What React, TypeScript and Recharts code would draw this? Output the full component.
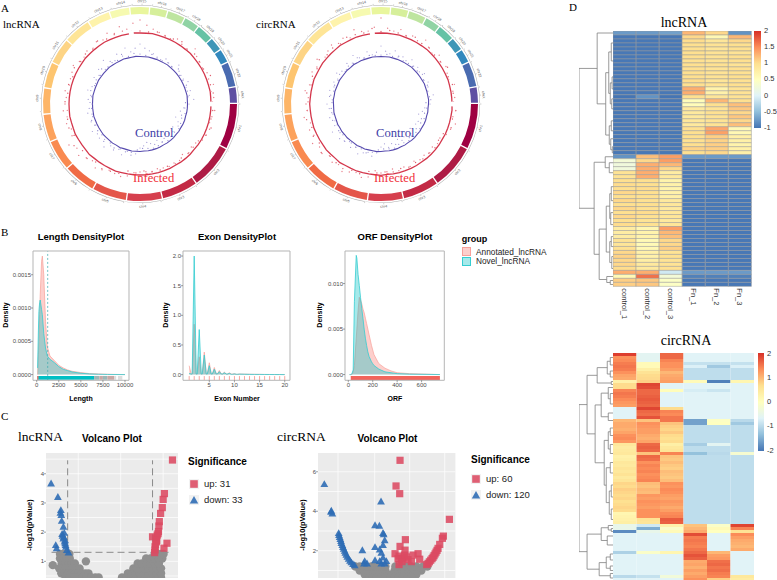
import React from 'react';
import {
  AreaChart, Area, XAxis, YAxis, ReferenceArea, ReferenceLine, ScatterChart, Scatter, CartesianGrid,
  BarChart, Bar, Cell, LineChart, Line, PieChart, Pie, RadarChart, Radar, PolarAngleAxis, PolarRadiusAxis,
} from 'recharts';

const SANS = '"Liberation Sans", Arial, sans-serif';
const SERIF = '"Liberation Serif", serif';
const RED = '#F8766D';
const TEAL = '#00BFC4';

/* ---------- circos ---------- */
const chromNames = ['chr1','chr2','chr3','chr4','chr5','chr6','chr7','chr8','chr9','chr10','chr11','chr12','chr13','chr14','chr15','chr16','chr17','chr18','chr19','chr20','chr21','chr22','chrX'];
const chromSizes = [28,27.5,22,21.5,21,19.5,18.5,16.5,15.5,15.5,15.5,16.5,13.5,12,11.5,10.5,10.5,9,10,8,8,15,9.5];
const chromColors = ['#9E0142','#AE1B45','#C32A45','#D6404E','#E4564A','#F06B45','#F98A50','#FCA25C','#FDB567','#FDC570','#FDD485','#FEE597','#FEF3AB','#F6FAB0','#E9F69D','#D6EF9B','#BEE5A0','#90D3A4','#66C2A5','#3F96B7','#3288BD','#4A6BB0','#5E4FA2'];
const ringGapSpans = [4, 259, 4, 93];

const lncRedLine = [71,71,71.4,71,71,71,71,71,71,71.3,71,71, 71,71,71,71,71.3,71,71,71,71,71,71,71, 71,71,70.7,71,71,71,70.7,71,71,71,71,71, 71,71,71,71,71.5,71,71,71,71,71.6,71,71, 71,71.4,71,71,71.3,71,71,71,71,71,71,71, 71,71,71.3,71,71,71,71.3,71,71,71,71,71.4];
const lncRedDots = [84,79,76,74,73,72,75,73,72,78,74,73, 72,74,73,76,72,74,73,75,73,72,74,73, 72,68,67,69,66,69,68,69,68,67,69,68, 68,69,73,75,74,73,76,78,74,76,80,77, 82,75,73,76,74,73,75,74,76,73,74,75, 77,74,73,75,73,76,74,78,75,80,76,81];
const lncRedDots2 = [73,72.5,74,72.5,73,75,72.5,74,73,72.5,76,73,74,72.5,73,72.5,75,73,69,68.5,69,68,69.5,68,69,68.5,67,69,68,72.5,73.5,75,73,76,74,78,73,75,74,77,75,73,74,72.5,75,73,74,72.5,76,73,74,75,73];
const lncBlueLine = [47.5,47.5,47.8,47.5,47.5,47.5,47.5,47.8,47.5,47.5,47.5,47.5, 47.5,47.5,47.5,47.5,47.8,47.5,47.5,47.5,47.5,47.2,47.5,47.5, 47.2,47.5,47.2,47.5,47.5,47.5,47.2,47.5,47.5,47.5,47.5,47.2, 47.5,47.5,47.8,47.5,47.5,47.9,47.5,47.8,47.5,47.5,47.8,47.5, 47.5,47.5,47.5,47.8,47.5,47.5,47.5,47.5,47.8,47.5,47.5,47.5, 47.8,47.5,47.5,47.5,47.9,47.5,47.5,47.5,47.8,47.5,47.5,47.8];
const lncBlueDots = [60,56,54,52,50,49,52,50,49,55,51,50, 50,53,49,52,50,54,49,44,41,43,38,42, 44,40,43,41,39,42,44,40,43,41,39,42, 44,50,52,49,54,50,53,51,56,50,53,52, 55,50,52,49,53,51,48,52,50,54,51,49, 53,50,54,49,57,52,50,55,51,58,53,56];
const lncBlueDots2 = [50,49,51,49,48.5,50,49,52,49,49,50,49,48.5,45.5,45,46,44,45,46,44.5,45,46,44,45.5,46,45,44.5,46,49,50,49,51,49,52,49,50,49,51,49,48.5,50,49,51,49,50,49,52,49,50,49,53,49,51];
const circRedLine = [71,71,71,71.4,71,71,71,71,71.3,71,71,71, 71,71,71.3,71,71,71,71,71.3,71,71,71,71, 70.7,71,71,71,71,70.7,71,71,71,71,71,70.7, 71.4,71,71,71,71.3,71,71,71.6,71,71,71.4,71, 71,71,71.3,71,71,71,71.3,71,71,71,71.4,71, 71,71.3,71,71,71,71.4,71,71,71.3,71,71,71];
const circRedDots = [86,76,74,77,73,75,73,78,74,72,76,73, 75,73,72,76,73,74,72,75,73,77,74,72, 68,69,67,69,67,68,66,69,67,69,66,68, 69,67,74,76,73,75,78,74,76,73,77,75, 79,74,76,73,78,74,75,73,77,74,72,76, 74,78,73,75,77,74,76,73,79,75,74,77];
const circRedDots2 = [72.5,74,73,72.5,75,73,74,72.5,73,76,72.5,74,73,72.5,75,73,74,69,68,69.5,68.5,69,68,69,67.5,69,68,69,68.5,73,72.5,75,74,73,77,73,75,73,76,74,73,75,72.5,74,73,76,73,74,72.5,75,74,73,76];
const circBlueLine = [47.5,47.5,47.8,47.5,47.5,47.5,47.5,47.5,47.8,47.5,47.5,47.5, 47.5,47.8,47.5,47.5,47.5,47.8,47.5,47.2,47.5,47.2,47.5,47.5, 47.2,47.5,47.2,47.5,47.5,47.2,47.5,47.2,47.5,47.5,47.5,47.2, 47.5,47.8,47.5,47.5,47.8,47.5,47.9,47.5,47.5,47.8,47.5,47.8, 47.5,47.8,47.5,47.5,47.8,47.5,47.5,47.9,47.5,47.8,47.5,47.5, 47.8,47.5,47.5,47.8,47.5,47.9,47.5,47.8,47.5,47.5,47.8,47.5];
const circBlueDots = [58,53,51,55,50,52,50,54,49,52,50,53, 49,52,50,48,53,50,49,44,42,39,43,41, 40,43,38,42,44,40,42,39,43,41,44,40, 43,49,53,50,52,55,50,53,49,52,54,50, 56,51,49,53,50,52,54,49,51,53,50,52, 50,54,51,49,53,50,56,51,49,54,50,52];
const circBlueDots2 = [49,50,49,51,48.5,49,50,49,51,49,50,48.5,49,45,46,44.5,45.5,44,46,45,44.5,46,45,44,46,45.5,45,46,49,51,49,50,49,52,49,50,48.5,51,49,50,49,52,49,50,49,51,48.5,50,49,52,49,50,49];

/* ---------- density ---------- */
const lengthX = [100,200,250,330,400,550,640,800,1000,1200,1500,2000,2500,3000,3500,4000,5000,6000,7000,8000,10000];
const lengthAnnotated = [0,.0003,.0005,.0009,.0012,.0017,.00178,.0015,.0008,.00042,.00028,.00021,.00014,.0001,.00007,.00005,.00003,.000015,.00001,.000005,0];
const lengthNovel = [.0001,.0007,.00095,.00108,.00112,.00098,.0009,.00062,.0004,.00028,.00023,.00018,.00012,.00008,.00006,.00004,.00002,.00001,.000005,.000002,0];
const lengthRug = [[50,6500,TEAL],[50,200,RED],[6500,7100,'#9DB8B8'],[7100,7500,'#C9A9A6'],[7500,8000,'#9DB8B8'],[8000,8800,'#C9A9A6'],[8800,9000,'#DDDDDD'],[9200,9700,'#DDDDDD']];

const exonX = [1,1.4,1.6,2,2.4,2.6,3,3.4,3.6,4,4.4,4.6,5,5.4,5.6,6,6.4,6.6,7,7.4,7.6,8,8.4,8.6,9,9.4,9.6,10,10.4,10.6,11,12,13,14,15,16,17,18,19,20];
const exonAnnotated = [.15,.01,.01,.85,.01,.01,.3,.01,.01,.38,.01,.01,.2,.01,.01,.12,.01,.01,.07,.01,.01,.04,.01,.01,.03,.01,.01,.015,.005,.005,.01,.008,.006,.005,.004,.003,.002,.002,.001,0];
const exonNovel = [.02,.01,.01,2.0,.01,.01,.76,.01,.01,.33,.01,.01,.15,.01,.01,.09,.01,.01,.05,.01,.01,.03,.01,.01,.02,.005,.005,.012,.005,.005,.008,.006,.004,.003,.003,.002,.002,.001,.001,0];
const exonRugTicks = [1,2,3,4,5,6,7,8,9,10,11,12,13,14,15,16,17,18,19,20];

const orfX = [10,20,30,40,50,65,70,80,90,100,110,120,130,140,150,160,170,180,190,200,210,250,300,350,400,500,750];
const orfAnnotated = [0,0,0,.0003,.001,.004,.005,.007,.0085,.0082,.0078,.0072,.0068,.0062,.0056,.005,.0044,.0038,.0032,.0027,.0022,.0012,.0007,.0004,.0002,.0001,0];
const orfNovel = [0,0,.0001,.0005,.008,.0131,.0128,.011,.0098,.0085,.0073,.0062,.005,.004,.0032,.0025,.002,.0017,.0014,.0012,.001,.0006,.0003,.0002,.0001,.00005,0];

/* ---------- volcano ---------- */
const lncUp = [[1.47,4.47],[1.28,3.32],[1.25,3.12],[1.23,2.84],[1.19,2.64],[1.16,2.36],[1.15,2.21],[1.14,2.02],[1.11,1.9],[1.0,1.84],[1.09,1.79],[1.09,1.67],[1.34,1.62],[1.27,1.45],[1.06,1.5],[1.06,1.39],[1.05,1.3],[1.13,1.95],[1.1,1.72],[1.07,1.58]];
const lncDown = [[-1.39,3.67],[-1.23,3.21],[-1.16,2.76],[-1.17,2.67],[-1.15,2.59],[-1.14,2.39],[-1.1,2.19],[-1.13,1.94],[-1.09,1.84],[-1.1,1.79],[-1.06,1.73],[-1.28,1.56],[-1.26,1.45],[-1.06,1.62],[-1.04,1.5],[-1.02,1.39],[-.98,1.31],[-1.08,1.98],[-1.12,1.88],[-1.07,1.68],[-1.05,1.56]];
const lncGray = [[-1.18,1.25],[-1.1,1.25],[-1.03,1.25],[-.96,1.25],[-1.18,1.1],[-1.1,1.1],[-1.02,1.1],[-.95,1.1],[-1.14,.93],[-1.05,.93],[-.97,.93],[-.9,.93],[-.83,.93],[-1.35,.87],[-.57,1.0],[-1.2,.76],[-1.12,.76],[-1.04,.76],[-.96,.76],[-.88,.76],[-.8,.76],[-.72,.76],[-1.15,.59],[-1.07,.59],[-.99,.59],[-.91,.59],[-.83,.59],[-.75,.59],[-.67,.59],[-.59,.59],[-.51,.59],[-1.05,.45],[-.95,.45],[-.85,.45],[-.75,.45],[-.65,.45],[-.55,.45],[-.45,.45],[-.35,.45],[-.27,.45],
  [.28,.45],[.38,.45],[.48,.45],[.58,.45],[.68,.45],[.78,.45],[.88,.45],[.98,.45],[1.08,.45],[1.2,.45],[.42,.59],[.5,.59],[.6,.59],[.7,.59],[.8,.59],[.9,.59],[1.0,.59],[1.1,.59],[1.2,.59],[.55,.76],[.63,.76],[.72,.76],[.8,.76],[.9,.76],[1.0,.76],[1.1,.76],[1.2,.76],[.65,.93],[.75,.93],[.85,.93],[.95,.93],[1.05,.93],[1.15,.93],[.85,1.1],[.95,1.1],[1.05,1.1],[1.15,1.1],[1.23,1.1],[1.05,1.25],[1.12,1.25],[1.2,1.25],[1.26,1.25]];
const circUp = [[.36,6.58],[.24,5.28],[.35,4.89],[1.84,3.59],[.52,2.56],[.36,2.22],[.51,2.03],[.21,1.85],[.33,1.73],[.5,1.78],[.55,1.69],[.75,1.78],[.9,1.85],[.95,1.57],[.7,1.45],[.4,1.57],[.45,1.63],[.33,1.3],[.3,1.6],[.6,1.55],[.42,1.45],[1.66,2.74],[1.63,2.63],[1.55,2.32],[1.5,2.12],[1.47,2.02],[1.44,1.93],[1.41,1.84],[1.38,1.75],[1.35,1.67],[1.32,1.6],[1.28,1.52],[1.24,1.44],[1.2,1.36],[1.16,1.3]];
const circDown = [[-1.91,5.38],[-1.7,4.03],[-1.71,3.98],[-1.67,3.89],[-.21,4.5],[-.39,3.3],[-.26,3.27],[-.15,2.91],[-.13,2.84],[-.1,2.54],[-.15,2.29],[-.39,2.19],[-.77,2.03],[-.25,2.07],[-.2,1.9],[-.15,1.66],[-.39,1.53],[-.25,1.48],[-.05,1.48],[-.7,1.48],[-.72,1.36],[-.63,1.36],[-.2,1.36],[-.1,1.36],[-1.48,2.9],[-1.47,2.8],[-1.45,2.7],[-1.43,2.6],[-1.41,2.5],[-1.4,2.4],[-1.37,2.3],[-1.35,2.2],[-1.33,2.1],[-1.3,2.0],[-1.28,1.9],[-1.25,1.8],[-1.22,1.7],[-1.18,1.6],[-1.14,1.5],[-1.1,1.42],[-1.05,1.33],[-1.0,1.27]];
const circGray = [[-.98,1.2],[-.85,1.2],[-.7,1.2],[-.5,1.2],[-.35,1.2],[-.2,1.2],[-.08,1.2],[.22,1.2],[.4,1.2],[.55,1.2],[.7,1.2],[.85,1.2],[1.05,1.2],[1.18,1.2],[-.85,1],[-.72,1],[-.6,1],[-.47,1],[-.33,1],[-.2,1],[-.08,1],[.2,1],[.32,1],[.45,1],[.58,1],[.7,1],[.85,1],[1,1],[-.7,.8],[-.6,.8],[-.5,.8],[-.38,.8],[-.25,.8],[-.12,.8],[-.02,.8],[.1,.8],[.22,.8],[.35,.8],[.48,.8],[.6,.8],[.75,.8],[.85,.8],[-.55,.67],[-.45,.67],[-.33,.67],[-.2,.67],[-.08,.67],[.08,.67],[.2,.67],[.32,.67],[.45,.67],[.58,.67],[.7,.67]];

/* ---------- heatmaps ---------- */
const lncColumns = ['control_1','control_2','control_3','Fn_1','Fn_2','Fn_3'];
const lncRows = [
[-.75,-.75,-.7,1.25,1.05,-.8],[-.98,-.98,-.98,1.05,.62,1.25],[-.98,-.98,-.98,1.02,.9,1.05],[-.98,-.98,-.98,1,.95,1],[-.98,-.98,-.98,1,.92,1],[-.98,-.98,-.98,1,.95,.95],[-.98,-.98,-.98,1,.95,1],[-.98,-.98,-.98,.98,.95,1],[-.98,-.98,-.98,1,.98,.95],[-.98,-.98,-.98,1,.95,1],[-.98,-.98,-.98,1,.95,.98],[-.98,-.98,-.98,1,.95,1],[-.98,-.98,-.98,1.02,.92,.98],[-.98,-.98,-.98,1,.95,1],
[-.98,-.98,-.98,1.3,.7,.95],[-.98,-.98,-.98,1.3,.72,.95],[-1.02,-.8,-1.02,1,.9,.95],[-.98,-.98,-.98,.55,1.25,1],[-.98,-.98,-.98,.55,1,1.2],[-.98,-.98,-.98,.85,.95,1.15],[-.98,-.98,-.98,.85,.98,1.05],[-.98,-.98,-.98,.85,.95,1.15],[-.98,-.98,-.98,.88,.95,1.05],[-.98,-.98,-.98,.85,.95,1.2],[-.98,-.98,-.98,1,1.35,.6],[-.98,-.98,-.98,1,1.38,.62],[-.98,-.98,-.98,1,1.1,.75],[-.98,-.98,-.98,.98,1.08,.75],[-.98,-.98,-.98,1,1.1,.7],[-.98,-.98,-.98,1.08,1.1,.75],[-.98,-.98,-.98,1,1.05,.75],
[-.8,1.2,1.4,-.75,-.75,-.75],[.3,1.05,1.4,-.98,-.98,-.98],[.25,1.3,1.25,-.98,-.98,-.98],[.25,1.3,1.05,-.98,-.98,-.98],[.95,1.3,.8,-.98,-.98,-.98],[.95,1.3,.85,-.98,-.98,-.98],[1,1,.7,-.98,-.98,-.98],[1.02,1,.72,-.98,-.98,-.98],[1,1.02,.7,-.98,-.98,-.98],[1.05,1,.72,-.98,-.98,-.98],[1,.98,.75,-.98,-.98,-.98],[1.05,.98,.85,-.98,-.98,-.98],[1,1,.88,-.98,-.98,-.98],[1.05,.98,.85,-.98,-.98,-.98],[1,1.02,.88,-.98,-.98,-.98],[1.05,.98,.9,-.98,-.98,-.98],[1,.95,.85,-.98,-.98,-.98],[1.02,.98,.9,-.98,-.98,-.98],
[.8,.65,1.4,-.98,-.98,-.98],[.8,.7,1.25,-.98,-.98,-.98],[.8,.7,1.2,-.98,-.98,-.98],[.95,.6,1.05,-.98,-.98,-.98],[.92,.58,1.05,-.98,-.98,-.98],[.98,.62,1.1,-.98,-.98,-.98],[1.05,.75,.95,-.98,-.98,-.98],[1.08,.72,.98,-.98,-.98,-.98],[1.05,.78,.95,-.98,-.98,-.98],[1.05,.85,.95,-.98,-.98,-.98],[1.02,.85,.98,-.98,-.98,-.98],
[1.3,1.3,-.1,-.75,-.75,-.75],[.6,1.65,.3,-.92,-.92,-.92],[1.1,1.15,.45,-.98,-.98,-.98],[1.1,1.15,.45,-.98,-.98,-.98],
];
const circRows = [
[1.9,-.6,1.6,-.65,-.65,-.65],[1.3,-.6,1.6,-.65,-.65,-.65],[1.35,-.6,1.4,-.65,-.65,-.65],[1.45,.1,1.3,-.9,-.9,-.9],[1.5,.1,1.3,-.7,-1.2,-.7],[1.45,.35,1.2,-.95,-.95,-.95],[1.3,.6,1,-.95,-.95,-.95],[1.15,.7,1.1,-.95,-.95,-.95],[1.1,.72,1.15,-.95,-.95,-.95],[.3,.8,1.2,.1,-1.9,.2],
[.7,1.85,-.65,-.65,-.65,-.65],[.7,1.8,-.65,-.65,-.65,-.65],[1.4,1.6,.05,-.75,-.85,-.65],[1.5,1.6,-.65,-.65,-.65,-.65],[1.45,1.65,-.65,-.65,-.65,-.65],[1.35,1.7,-.65,-.65,-.65,-.65],[1.25,1.65,-.65,-.65,-.65,-.65],[1.2,1.6,-.65,-.65,-.65,-.65],
[-.65,1.85,.7,-.65,-.65,-.65],[-.65,1.6,1.4,-.65,-.65,-.65],[-.65,1.55,1.35,-.65,-.65,-.65],[-.65,1.75,1.5,-.65,-.65,-.65],
[1,.9,1.5,-1.6,-.05,-1],[1.1,1.3,.9,-1.6,0,-1.2],[1.1,1.25,.8,-.95,-.95,-.95],[1.05,1.2,.75,-.95,-.95,-.95],[1.15,1.2,.85,-.95,-.95,-.95],[1.3,1.1,.7,-.95,-.95,-.95],[1.35,1.05,.65,-.95,-.95,-.95],[1.25,1.15,.7,-.95,-.95,-.95],
[.5,1.6,.35,-1.15,-.6,-.95],[.4,1.65,.5,-.95,-.95,-.95],[.45,1.6,.55,-.95,-.95,-.95],
[.5,.9,1.4,-1.3,-1,-.2],[.3,1.6,.9,-.95,-.95,-.95],[.35,1.55,.85,-.95,-.95,-.95],[.5,1.3,.95,-.95,-.95,-.95],[.45,1.4,.85,-.95,-.95,-.95],[.55,1.35,.8,-.95,-.95,-.95],[.5,1.4,.95,-.95,-.95,-.95],[.6,1.3,.9,-.95,-.95,-.95],[.45,1.35,.85,-.95,-.95,-.95],[.55,1.4,.95,-.95,-.95,-.95],
[.75,.95,1.3,-.95,-.95,-.95],[.7,.9,1.25,-.95,-.95,-.95],[.8,1,1.35,-.95,-.95,-.95],[.75,.95,1.3,-.95,-.95,-.95],
[.7,1.25,1.2,-.95,-.95,-.95],[.75,1.2,1.15,-.95,-.95,-.95],[.65,1.3,1.25,-.95,-.95,-.95],[.7,1.25,1.2,-.95,-.95,-.95],[.75,1.2,1.1,-.95,-.95,-.95],[.7,1.3,1.2,-.95,-.95,-.95],
[.2,1.3,1.35,-.95,-.95,-.95],[.25,1.3,1.4,-.95,-.95,-.95],[.3,.6,1.7,-.95,-.95,-.95],[.35,.55,1.65,-.95,-.95,-.95],
[-.5,-.8,.3,.9,-.1,1.85],[-.5,-1.5,-.1,1,.1,1.4],[-1.8,-.5,.1,1.1,0,.6],
[-.65,-.65,-.65,1.8,-.65,1.35],[-.65,-.65,-.65,1.45,-.65,1.2],[-.65,-.65,-.65,1.5,-.65,1.1],[-.65,-.65,-.65,1.45,-.65,1.05],[-.65,-.65,-.65,1.4,-.65,1],[-.65,-.65,-.65,1.5,-.65,1.1],
[-1.1,-.1,.2,1.6,1,-.65],[-.65,-.65,-.65,1.75,1.2,-.65],[-.65,-.65,-.65,1.65,1.25,-.65],
[-.65,-.65,-.65,1.1,1.55,-.65],[-.65,-.65,-.65,1.15,1.6,-.65],[-.65,-.65,-.65,1.05,1.5,-.65],[-.65,-.65,-.65,1.2,1.55,-.65],[-.65,-.65,-.65,1.1,1.45,-.65],
[-1,-.9,-.3,1.2,1.4,.5],[-.65,-.65,-.65,1.3,.8,.4],
];
const paletteStops = ['#4575B4','#91BFDB','#E0F3F8','#FFFFBF','#FEE090','#FC8D59','#D73027'];

const lncTree: any = [34,[16,1,[7.5,[4.5,[2,4,5],[3,[1.2,3,3],[1.5,2,3]]],[4,[2,3,2],[2.5,2,[1,2,1]]]]],[19,[8,1,[4,2,3]],[14,[7,[3.5,[2,4,3],[2.5,3,3]],[3.5,[2,3,2],[1.5,3,3]]],[6.5,1,[3,1,1]]]]];
const circTree: any = [34,[26,[16,[6,[3,3,2],[3,2,2]],[2,1,1]],[18,[12,[5,1,[3,3,4]],[5,2,3]],[9,[5,[3,2,3],[3,3,3]],[7,[3,3,4],[4,[2,4,4],[2,4,3]]]]]],[26,[12,[5,1,[2,1,1]],[6,2,4]],[14,[7,[3,2,2],[3,2,1]],[3,1,2]]]];

/* ---------- helpers ---------- */
const hexToRgb = (h: string) => [1, 3, 5].map((i) => parseInt(h.slice(i, i + 2), 16));
const colorFor = (v: number, lo: number, hi: number) => {
  const t = Math.max(0, Math.min(1, (v - lo) / (hi - lo))) * (paletteStops.length - 1);
  const i = Math.min(paletteStops.length - 2, Math.floor(t));
  const a = hexToRgb(paletteStops[i]);
  const b = hexToRgb(paletteStops[i + 1]);
  const m = a.map((c, k) => Math.round(c + (b[k] - c) * (t - i)));
  return `rgb(${m[0]},${m[1]},${m[2]})`;
};

const T = ({ x, y, s, c = '#000', b = false, f = SANS, mid = false, rot = 0, children }: any) => (
  <div style={{ position: 'absolute', left: x, top: y, fontSize: s, color: c, fontWeight: b ? 700 : 400, fontFamily: f, lineHeight: 1, whiteSpace: 'nowrap',
    transform: `translate(${mid ? '-50%' : '0'},-50%)${rot ? ` rotate(${rot}deg)` : ''}` }}>{children}</div>
);
const Abs = ({ x, y, children }: any) => <div style={{ position: 'absolute', left: x, top: y }}>{children}</div>;

const chromLabel = (p: any) => {
  const R = Math.PI / 180;
  const pt = (r: number, a: number) => [p.cx + r * Math.cos(-a * R), p.cy + r * Math.sin(-a * R)];
  const [tx, ty] = pt(p.outerRadius + 3.6, p.midAngle);
  const [a1, a2] = pt(p.outerRadius, p.midAngle);
  const [b1, b2] = pt(p.outerRadius + 1.3, p.midAngle);
  const [c1, c2] = pt(p.outerRadius, p.startAngle);
  const [d1, d2] = pt(p.outerRadius + 1.3, p.startAngle);
  let rot = -p.midAngle + 90;
  const norm = ((-p.midAngle % 360) + 360) % 360;
  if (norm > 0 && norm < 180) rot += 180;
  return (
    <g>
      <line x1={a1} y1={a2} x2={b1} y2={b2} stroke="#888" strokeWidth={0.4} />
      <line x1={c1} y1={c2} x2={d1} y2={d2} stroke="#888" strokeWidth={0.4} />
      <text x={tx} y={ty} fontSize={3.6} fill="#555" fontFamily={SANS} textAnchor="middle" dominantBaseline="middle" transform={`rotate(${rot},${tx},${ty})`}>{p.name}</text>
    </g>
  );
};

const Circos = ({ cx, cy, redLine, redDots, redDots2, blueLine, blueDots, blueDots2 }: any) => {
  const size = 240;
  const chrom = chromNames.map((name, i) => ({ name, size: chromSizes[i] }));
  const gaps = ringGapSpans.map((size, i) => ({ name: `g${i}`, size }));
  const rows = redLine.map((_: number, i: number) => ({ a: i, redLine: redLine[i], redDots: redDots[i], blueLine: blueLine[i], blueDots: blueDots[i] }));
  const rows2 = redDots2.map((_: number, i: number) => ({ a: i, red: redDots2[i], blue: blueDots2[i] }));
  const zero = { top: 0, right: 0, bottom: 0, left: 0 };
  return (
    <>
      <Abs x={cx - size / 2} y={cy - size / 2}>
        <PieChart width={size} height={size} margin={zero}>
          <Pie data={chrom} dataKey="size" nameKey="name" cx={size / 2} cy={size / 2} innerRadius={90} outerRadius={97} startAngle={0} endAngle={-360} paddingAngle={0.8} stroke="none" isAnimationActive={false} label={false}>
            {chrom.map((c, i) => <Cell key={c.name} fill={chromColors[i]} />)}
          </Pie>
          <Pie data={chrom} dataKey="size" nameKey="name" cx={size / 2} cy={size / 2} innerRadius={98.6} outerRadius={99.1} startAngle={0} endAngle={-360} paddingAngle={0.4} stroke="none" fill="#AAAAAA" isAnimationActive={false} labelLine={false} label={chromLabel} />
        </PieChart>
      </Abs>
      <Abs x={cx - size / 2} y={cy - size / 2}>
        <RadarChart width={size} height={size} data={rows2} cx={size / 2} cy={size / 2} outerRadius={105} margin={zero}>
          <PolarAngleAxis dataKey="a" tick={false} axisLine={false} />
          <PolarRadiusAxis domain={[0, 105]} tick={false} axisLine={false} />
          <Radar dataKey="red" stroke="none" fill="none" isAnimationActive={false} dot={{ r: 0.7, fill: '#E0606F', stroke: 'none' }} />
          <Radar dataKey="blue" stroke="none" fill="none" isAnimationActive={false} dot={{ r: 0.6, fill: '#8C84CC', stroke: 'none' }} />
        </RadarChart>
      </Abs>
      <Abs x={cx - size / 2} y={cy - size / 2}>
        <RadarChart width={size} height={size} data={rows} cx={size / 2} cy={size / 2} outerRadius={105} margin={zero}>
          <PolarAngleAxis dataKey="a" tick={false} axisLine={false} />
          <PolarRadiusAxis domain={[0, 105]} tick={false} axisLine={false} />
          <Radar dataKey="redDots" stroke="none" fill="none" isAnimationActive={false} dot={{ r: 0.7, fill: '#E8808C', stroke: 'none' }} />
          <Radar dataKey="redLine" stroke="#D4364B" strokeWidth={1.3} fill="none" isAnimationActive={false} dot={false} />
          <Radar dataKey="blueDots" stroke="none" fill="none" isAnimationActive={false} dot={{ r: 0.6, fill: '#A29AD6', stroke: 'none' }} />
          <Radar dataKey="blueLine" stroke="#5549AE" strokeWidth={1.1} fill="none" isAnimationActive={false} dot={false} />
        </RadarChart>
      </Abs>
      <Abs x={cx - size / 2} y={cy - size / 2}>
        <PieChart width={size} height={size} margin={zero}>
          <Pie data={gaps} dataKey="size" nameKey="name" cx={size / 2} cy={size / 2} innerRadius={68} outerRadius={74} startAngle={2} endAngle={-358} stroke="none" isAnimationActive={false} label={false}>
            {gaps.map((g, i) => <Cell key={g.name} fill={i === 1 ? 'transparent' : i === 3 ? 'transparent' : '#FFFFFF'} />)}
          </Pie>
        </PieChart>
      </Abs>
    </>
  );
};

const Density = ({ left, right, top, bottom, xDomain, yDomain, xTicks, yTicks, yFmt, xs, ann, nov, children }: any) => {
  const ml = 30, mr = 6, mt = 4, xh = 14;
  const rows = xs.map((x: number, i: number) => ({ x, a: ann[i], n: nov[i] }));
  return (
    <Abs x={left - ml} y={top - mt}>
      <AreaChart width={right - left + ml + mr} height={bottom - top + mt + xh} data={rows} margin={{ top: mt, right: mr, bottom: 0, left: 0 }}>
        <XAxis dataKey="x" type="number" domain={xDomain} ticks={xTicks} interval={0} height={xh} allowDataOverflow axisLine={false} tickSize={2} tickLine={{ stroke: '#444', strokeWidth: 0.5 }} tick={{ fontSize: 6, fill: '#4d4d4d', fontFamily: SANS }} tickMargin={0} />
        <YAxis type="number" domain={yDomain} ticks={yTicks} interval={0} width={ml} allowDataOverflow axisLine={false} tickSize={2} tickLine={{ stroke: '#444', strokeWidth: 0.5 }} tick={{ fontSize: 6, fill: '#4d4d4d', fontFamily: SANS }} tickMargin={0} tickFormatter={yFmt} />
        <Area dataKey="a" type="linear" stroke="#F8A09A" strokeWidth={0.7} fill={RED} fillOpacity={0.35} isAnimationActive={false} dot={false} />
        <Area dataKey="n" type="linear" stroke="#35CDD1" strokeWidth={0.8} fill={TEAL} fillOpacity={0.35} isAnimationActive={false} dot={false} />
        {children}
        <ReferenceArea x1={xDomain[0]} x2={xDomain[1]} y1={yDomain[0]} y2={yDomain[1]} fill="none" stroke="#B5B5B5" strokeWidth={1} />
      </AreaChart>
    </Abs>
  );
};

const GrayDot = (p: any) => <circle cx={p.cx} cy={p.cy} r={4.2} fill="#8F8F8F" />;
const RedSquare = (p: any) => <rect x={p.cx - 3.6} y={p.cy - 3.6} width={7.2} height={7.2} fill="#DC4A62" fillOpacity={0.88} />;
const BlueTriangle = (p: any) => <path d={`M${p.cx},${p.cy - 3.8}L${p.cx + 3.9},${p.cy + 3.1}L${p.cx - 3.9},${p.cy + 3.1}Z`} fill="#2F6DB5" fillOpacity={0.9} />;
const toPts = (a: number[][]) => a.map(([x, y]) => ({ x, y }));

const Volcano = ({ left, right, top, bottom, xDomain, yDomain, yTicks, yGrid, xGrid, gray, up, down, children }: any) => {
  const ml = 14;
  return (
    <Abs x={left - ml} y={top}>
      <ScatterChart width={right - left + ml} height={bottom - top} margin={{ top: 0, right: 0, bottom: 0, left: 0 }}>
        <XAxis dataKey="x" type="number" domain={xDomain} hide allowDataOverflow />
        <YAxis dataKey="y" type="number" domain={yDomain} ticks={yTicks} interval={0} width={ml} allowDataOverflow axisLine={false} tickSize={2} tickLine={{ stroke: '#444', strokeWidth: 0.5 }} tick={{ fontSize: 6, fill: '#4d4d4d', fontFamily: SANS }} tickMargin={0} />
        <CartesianGrid stroke="#FFFFFF" strokeWidth={0.7} fill="#EBEBEB" fillOpacity={1} horizontalValues={yGrid} verticalValues={xGrid} />
        <Scatter data={toPts(gray)} shape={GrayDot} isAnimationActive={false} />
        {children}
        <Scatter data={toPts(up)} shape={RedSquare} isAnimationActive={false} />
        <Scatter data={toPts(down)} shape={BlueTriangle} isAnimationActive={false} />
      </ScatterChart>
    </Abs>
  );
};

const Heatmap = ({ x, y, w, rowH, rows, lo, hi, border, labels }: any) => {
  const table = rows.map((_: number[], i: number) => ({ row: i, c0: 1, c1: 1, c2: 1, c3: 1, c4: 1, c5: 1 }));
  const h = rowH * rows.length;
  const xh = labels ? 40 : 0;
  const tick = (p: any) => {
    const name = labels[Math.floor(p.payload.value)];
    const tx = p.x - 2.7, ty = p.y - 6;
    return <text x={tx} y={ty} fontSize={7.5} fill="#333" fontFamily={SANS} transform={`rotate(90,${tx},${ty})`}>{name}</text>;
  };
  return (
    <Abs x={x} y={y}>
      <BarChart layout="vertical" width={w} height={h + xh} data={table} barCategoryGap={0} margin={{ top: 0, right: 0, bottom: 0, left: 0 }}>
        <XAxis type="number" domain={[0, 6]} ticks={[0.5, 1.5, 2.5, 3.5, 4.5, 5.5]} interval={0} hide={!labels} height={xh} axisLine={false} tickLine={false} tick={labels ? tick : false} />
        <YAxis type="category" dataKey="row" hide />
        {[0, 1, 2, 3, 4, 5].map((k) => (
          <Bar key={k} dataKey={`c${k}`} stackId="m" isAnimationActive={false}>
            {rows.map((r: number[], i: number) => (
              <Cell key={i} fill={colorFor(r[k], lo, hi)} stroke={border ? '#9A9A9A' : 'none'} strokeWidth={border ? 0.5 : 0} />
            ))}
          </Bar>
        ))}
      </BarChart>
    </Abs>
  );
};

const treeSegments = (tree: any) => {
  const out: any[] = [];
  let row = 0;
  const walk = (n: any): [number, number] => {
    if (typeof n === 'number') { const c = row + n / 2; row += n; return [0, c]; }
    const [h, a, b] = n;
    const [ha, ya] = walk(a);
    const [hb, yb] = walk(b);
    out.push({ h: ha, r: ya }, { h, r: ya }, { h, r: yb }, { h: hb, r: yb }, { h: hb, r: null });
    return [h, (ya + yb) / 2];
  };
  walk(tree);
  return { segs: out, rows: row };
};

const Dendro = ({ x, y, w, h, tree }: any) => {
  const { segs, rows } = treeSegments(tree);
  return (
    <Abs x={x} y={y}>
      <LineChart width={w} height={h} data={segs} margin={{ top: 0, right: 0, bottom: 0, left: 0 }}>
        <XAxis dataKey="h" type="number" domain={[0, 34]} reversed hide allowDuplicatedCategory />
        <YAxis type="number" domain={[0, rows]} reversed hide />
        <Line dataKey="r" stroke="#808080" strokeWidth={0.8} dot={false} connectNulls={false} isAnimationActive={false} />
      </LineChart>
    </Abs>
  );
};

const ColorBar = ({ x, y, w, h, labels, lx }: any) => (
  <>
    <div style={{ position: 'absolute', left: x, top: y, width: w, height: h, background: `linear-gradient(to top, ${paletteStops.join(',')})` }} />
    {labels.map(([t, ly]: any) => <T key={t} x={lx} y={ly} s={7.5} c="#333">{t}</T>)}
  </>
);

const LegendKey = ({ x, y, kind }: any) => (
  <svg style={{ position: 'absolute', left: x, top: y }} width={10} height={10}>
    <rect width={10} height={10} fill="#F2F2F2" />
    {kind === 'up'
      ? <rect x={1.2} y={1.2} width={7.6} height={7.6} fill="#DC4A62" fillOpacity={0.88} />
      : <path d="M5,1L9.2,8.5L0.8,8.5Z" fill="#2F6DB5" fillOpacity={0.9} />}
  </svg>
);

export default function App() {
  return (
    <div style={{ position: 'absolute', left: 0, top: 0, width: 777, height: 580, overflow: 'hidden', background: '#fff' }}>
      {/* Panel A */}
      <Circos cx={140} cy={104} redLine={lncRedLine} redDots={lncRedDots} redDots2={lncRedDots2} blueLine={lncBlueLine} blueDots={lncBlueDots} blueDots2={lncBlueDots2} />
      <Circos cx={381} cy={104} redLine={circRedLine} redDots={circRedDots} redDots2={circRedDots2} blueLine={circBlueLine} blueDots={circBlueDots} blueDots2={circBlueDots2} />
      <T x={1} y={8} s={11} f={SERIF}>A</T>
      <T x={3} y={24} s={11} f={SERIF}>lncRNA</T>
      <T x={256} y={24} s={11} f={SERIF}>circRNA</T>
      <T x={135} y={133} s={12.6} f={SERIF} c="#3F3FA8">Control</T>
      <T x={133} y={178} s={12.6} f={SERIF} c="#F0303A">Infected</T>
      <T x={376} y={133} s={12.6} f={SERIF} c="#3F3FA8">Control</T>
      <T x={374} y={178} s={12.6} f={SERIF} c="#F0303A">Infected</T>

      {/* Panel B */}
      <T x={1} y={232} s={11} f={SERIF}>B</T>
      <T x={81} y={237} s={9.5} b mid>Length DensityPlot</T>
      <T x={237} y={237} s={9.5} b mid>Exon DensityPlot</T>
      <T x={395} y={237} s={9.5} b mid>ORF DensityPlot</T>
      <Density left={33} right={129} top={250.7} bottom={380} xDomain={[-419, 10453]} yDomain={[-0.0000856, 0.001856]} xTicks={[0, 2500, 5000, 7500, 10000]} yTicks={[0, 0.0005, 0.001, 0.0015]} yFmt={(v: number) => v.toFixed(4)} xs={lengthX} ann={lengthAnnotated} nov={lengthNovel}>
        {lengthRug.map(([a, b, c]: any, i: number) => <ReferenceArea key={i} x1={a} x2={b} y1={-0.000078} y2={-0.00002} fill={c} fillOpacity={1} stroke="none" />)}
        <ReferenceLine segment={[{ x: 1245, y: -0.00008 }, { x: 1245, y: 0.00185 }]} stroke="#3AA7AD" strokeWidth={0.7} strokeDasharray="2 2" />
      </Density>
      <Density left={183} right={290} top={250.7} bottom={380} xDomain={[-0.23, 21.05]} yDomain={[-0.096, 2.085]} xTicks={[5, 10, 15, 20]} yTicks={[0, 0.5, 1, 1.5, 2]} yFmt={(v: number) => v.toFixed(1)} xs={exonX} ann={exonAnnotated} nov={exonNovel}>
        {exonRugTicks.map((t) => <ReferenceLine key={t} segment={[{ x: t, y: -0.09 }, { x: t, y: -0.025 }]} stroke="#F58F87" strokeWidth={0.8} />)}
      </Density>
      <Density left={345} right={444.3} top={250.7} bottom={380} xDomain={[-27, 786]} yDomain={[-0.00063, 0.01358]} xTicks={[0, 200, 400, 600]} yTicks={[0, 0.005, 0.01]} yFmt={(v: number) => v.toFixed(3)} xs={orfX} ann={orfAnnotated} nov={orfNovel}>
        <ReferenceArea x1={20} x2={750} y1={-0.0006} y2={-0.00017} fill="#F2655C" fillOpacity={1} stroke="none" />
      </Density>
      <T x={5} y={315} s={7} b mid rot={-90}>Density</T>
      <T x={165} y={315} s={7} b mid rot={-90}>Density</T>
      <T x={319} y={315} s={7} b mid rot={-90}>Density</T>
      <T x={81} y={398} s={7} b mid>Length</T>
      <T x={237} y={398} s={7} b mid>Exon Number</T>
      <T x={395} y={398} s={7} b mid>ORF</T>
      <T x={461.7} y={239} s={9} b>group</T>
      <div style={{ position: 'absolute', left: 461.7, top: 247, width: 9, height: 9, background: 'rgba(248,118,109,.35)', border: '0.7px solid #F8A09A', boxSizing: 'border-box' }} />
      <div style={{ position: 'absolute', left: 461.7, top: 256.5, width: 9, height: 9, background: 'rgba(0,191,196,.35)', border: '0.7px solid #35CDD1', boxSizing: 'border-box' }} />
      <T x={476} y={252} s={8.3} c="#222">Annotated_lncRNA</T>
      <T x={476} y={261} s={8.3} c="#222">Novel_lncRNA</T>

      {/* Panel C */}
      <T x={1} y={416} s={11} f={SERIF}>C</T>
      <T x={18} y={437} s={13.5} f={SERIF}>lncRNA</T>
      <T x={277} y={437} s={13.5} f={SERIF}>circRNA</T>
      <T x={112} y={439} s={10} b mid>Volcano Plot</T>
      <T x={387.5} y={439} s={10} b mid>Volcano Plot</T>
      <Volcano left={46} right={178} top={453} bottom={578} xDomain={[-1.51, 1.6]} yDomain={[0.43, 4.71]} yTicks={[1, 2, 3, 4]} yGrid={[0.5, 1, 1.5, 2, 2.5, 3, 3.5, 4, 4.5]} xGrid={[-1.25, -0.75, -0.25, 0.25, 0.75, 1.25]} gray={lncGray} up={lncUp} down={lncDown}>
        <ReferenceLine segment={[{ x: -1, y: 1.31 }, { x: -1, y: 4.46 }]} stroke="#8A8A8A" strokeWidth={1} strokeDasharray="7 4" />
        <ReferenceLine segment={[{ x: 1, y: 1.31 }, { x: 1, y: 4.46 }]} stroke="#8A8A8A" strokeWidth={1} strokeDasharray="7 4" />
        <ReferenceLine segment={[{ x: -1.38, y: 1.31 }, { x: 1.46, y: 1.31 }]} stroke="#8A8A8A" strokeWidth={1} strokeDasharray="7 4" />
      </Volcano>
      <Volcano left={318.3} right={455.7} top={453} bottom={578} xDomain={[-2.1, 2.02]} yDomain={[0.62, 6.95]} yTicks={[2, 4, 6]} yGrid={[1, 2, 3, 4, 5, 6]} xGrid={[-1.5, -0.95, -0.4, 0.1, 0.65, 1.17, 1.7]} gray={circGray} up={circUp} down={circDown} />
      <T x={30} y={525} s={7.5} b mid rot={-90}>-log10(pValue)</T>
      <T x={303} y={525} s={7.5} b mid rot={-90}>-log10(pValue)</T>
      <T x={188} y={462} s={10} b>Significance</T>
      <LegendKey x={189} y={479} kind="up" />
      <LegendKey x={189} y={495} kind="down" />
      <T x={204} y={484} s={9.5} c="#222">up: 31</T>
      <T x={204} y={500} s={9.5} c="#222">down: 33</T>
      <T x={471} y={460} s={10} b>Significance</T>
      <LegendKey x={471} y={474} kind="up" />
      <LegendKey x={471} y={490} kind="down" />
      <T x={486} y={479} s={9.5} c="#222">up: 60</T>
      <T x={486} y={495} s={9.5} c="#222">down: 120</T>

      {/* Panel D */}
      <T x={573} y={7} s={11} f={SERIF} mid>D</T>
      <T x={684} y={23} s={14} f={SERIF} mid>lncRNA</T>
      <Dendro x={579} y={30.7} w={34.3} h={255.5} tree={lncTree} />
      <Heatmap x={613.3} y={30.7} w={138.4} rowH={3.99} rows={lncRows} lo={-1} hi={2} border labels={lncColumns} />
      <ColorBar x={754.3} y={30.7} w={6.4} h={97.3} lx={764} labels={[['2', 31], ['1.5', 47], ['1', 63], ['0.5', 79], ['0', 96], ['-0.5', 112], ['-1', 128]]} />
      <T x={686} y={341} s={14} f={SERIF} mid>circRNA</T>
      <Dendro x={579} y={353.3} w={34.3} h={228} tree={circTree} />
      <Heatmap x={613.3} y={353.3} w={141} rowH={3} rows={circRows} lo={-2} hi={2} />
      <ColorBar x={757.7} y={353.3} w={6.3} h={97.3} lx={767} labels={[['2', 353.5], ['1', 377.7], ['0', 402], ['-1', 426], ['-2', 450.5]]} />
    </div>
  );
}
